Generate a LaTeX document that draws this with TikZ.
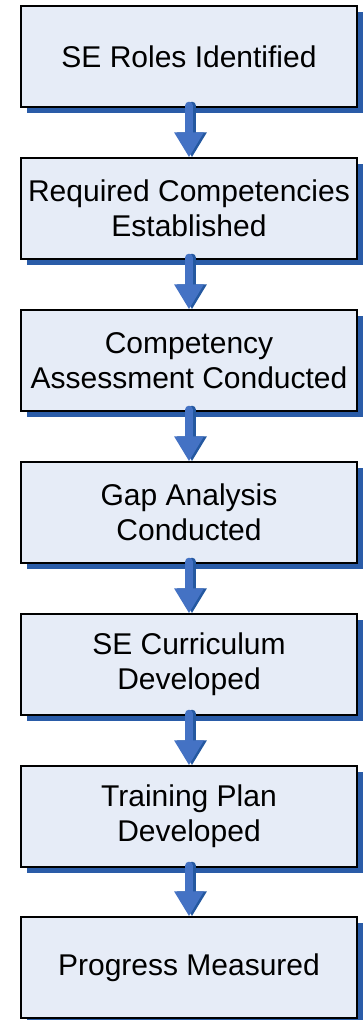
\documentclass[tikz,border=0pt]{standalone}
\usepackage{fontspec}
\setmainfont{Liberation Sans}
\usetikzlibrary{shadows,arrows.meta,calc}
\definecolor{boxfill}{HTML}{E6ECF7}
\definecolor{shadowblue}{HTML}{2A5CA8}
\definecolor{arrowblue}{HTML}{4472C4}
\definecolor{arrowshadow}{HTML}{2458A0}
\tikzset{
  stagebox/.style={draw=black, line width=1.4pt, fill=boxfill, minimum width=336pt, minimum height=101pt,
    align=center, font=\fontsize{30}{35}\selectfont, inner sep=0pt,
    drop shadow={shadow xshift=6pt, shadow yshift=-6pt, fill=shadowblue, opacity=1}},
  flowarrow/.style={line width=8pt, line cap=round, draw=arrowblue, -{Triangle[width=28pt,length=25pt]}},
  flowshadow/.style={line width=8pt, line cap=round, draw=arrowshadow, -{Triangle[width=28pt,length=25pt]}},
}
\begin{document}
\begin{tikzpicture}[x=1pt,y=-1pt]
\useasboundingbox (0,0) rectangle (364,1020);
\node[stagebox] (n1) at (189,56.5) {SE Roles Identified};
\node[stagebox] (n2) at (189,208.5) {Required Competencies\\Established};
\node[stagebox] (n3) at (189,360.5) {Competency\\Assessment Conducted};
\node[stagebox] (n4) at (189,512.5) {Gap Analysis\\Conducted};
\node[stagebox] (n5) at (189,664.5) {SE Curriculum\\Developed};
\node[stagebox] (n6) at (189,816.5) {Training Plan\\Developed};
\node[stagebox] (n7) at (189,967.5) {Progress Measured};
\foreach \a/\b in {n1/n2,n2/n3,n3/n4,n4/n5,n5/n6,n6/n7}{
  \draw[flowshadow] ($(\a.south)+(3,-2)$) -- ($(\b.north)+(3,0)$);
  \draw[flowarrow] ($(\a.south)+(0,-2)$) -- (\b.north);
}
\end{tikzpicture}
\end{document}
